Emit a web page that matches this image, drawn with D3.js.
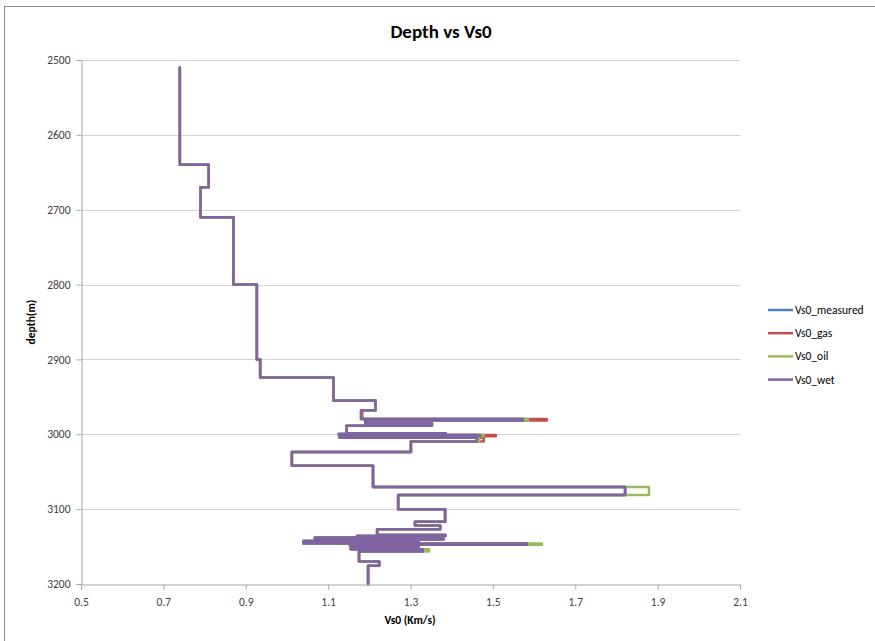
<!DOCTYPE html>
<html>
<head>
<meta charset="utf-8">
<script src="https://cdn.jsdelivr.net/npm/d3@7"></script>
<style>
  html, body { margin: 0; padding: 0; background: #fff; }
  svg { display: block; font-family: Carlito, Lato, "Open Sans", sans-serif; }
</style>
</head>
<body>
<svg id="chart" width="875" height="641"></svg>
<script>
// ---- data ----
const layerTops = [2510, 2640, 2670, 2710, 2800, 2900, 2924, 2955, 2968, 2979.5,
  2981.5, 2985.3, 2988.5, 2998.5, 2999.5, 3001, 3002.5, 3004.5, 3009.8, 3023.6,
  3042, 3070.5, 3081, 3100, 3117, 3122, 3127, 3134.5, 3136, 3137,
  3138, 3139.5, 3140.5, 3141.5, 3142.5, 3143.5, 3144.5, 3146, 3147.5, 3148.5,
  3149.5, 3150.5, 3151.5, 3153.5, 3156.5, 3170, 3175.5];
const bottomDepth = 3200;

const vsMeasured = [0.74, 0.81, 0.79, 0.87, 0.927, 0.935, 1.113, 1.215, 1.18, 1.573,
  1.19, 1.352, 1.145, 1.386, 1.126, 1.469, 1.128, 1.461, 1.301, 1.012,
  1.209, 1.821, 1.270, 1.384, 1.311, 1.372, 1.219, 1.385, 1.17, 1.38,
  1.068, 1.38, 1.07, 1.32, 1.04, 1.32, 1.04, 1.583, 1.153, 1.32,
  1.155, 1.32, 1.155, 1.33, 1.175, 1.224, 1.197];
const vsGas = [0.74, 0.81, 0.79, 0.87, 0.927, 0.935, 1.113, 1.215, 1.183, 1.631,
  1.19, 1.352, 1.145, 1.386, 1.126, 1.507, 1.128, 1.478, 1.301, 1.012,
  1.209, 1.821, 1.270, 1.384, 1.311, 1.372, 1.219, 1.385, 1.17, 1.38,
  1.068, 1.38, 1.07, 1.32, 1.04, 1.32, 1.04, 1.583, 1.153, 1.32,
  1.155, 1.32, 1.155, 1.33, 1.175, 1.224, 1.197];
const vsOil = [0.74, 0.81, 0.79, 0.87, 0.927, 0.935, 1.113, 1.215, 1.18, 1.585,
  1.19, 1.352, 1.145, 1.386, 1.126, 1.477, 1.128, 1.467, 1.301, 1.012,
  1.209, 1.879, 1.270, 1.384, 1.311, 1.372, 1.219, 1.385, 1.17, 1.38,
  1.068, 1.38, 1.07, 1.32, 1.04, 1.32, 1.04, 1.619, 1.153, 1.32,
  1.155, 1.32, 1.155, 1.345, 1.175, 1.224, 1.197];
const vsWet = [0.74, 0.81, 0.79, 0.87, 0.927, 0.935, 1.113, 1.215, 1.18, 1.573,
  1.19, 1.352, 1.145, 1.386, 1.126, 1.469, 1.128, 1.461, 1.301, 1.012,
  1.209, 1.821, 1.270, 1.384, 1.311, 1.372, 1.219, 1.385, 1.17, 1.38,
  1.068, 1.38, 1.07, 1.32, 1.04, 1.32, 1.04, 1.583, 1.153, 1.32,
  1.155, 1.32, 1.155, 1.33, 1.175, 1.224, 1.197];

const seriesNames = ["Vs0_measured", "Vs0_gas", "Vs0_oil", "Vs0_wet"];
const seriesColors = ["#4F81BD", "#C0504D", "#9BBB59", "#8064A2"];
const xTicks = [0.5, 0.7, 0.9, 1.1, 1.3, 1.5, 1.7, 1.9, 2.1];
const yTicks = [2500, 2600, 2700, 2800, 2900, 3000, 3100, 3200];

// ---- layout ----
const svg = d3.select("#chart");
const plot = { left: 81, right: 740, top: 60, bottom: 584 };

svg.append("rect").attr("x", 4.5).attr("y", 6.5).attr("width", 900).attr("height", 700)
  .attr("fill", "#fff").attr("stroke", "#8c8c8c").attr("stroke-width", 1);

const x = d3.scaleLinear().domain([0.5, 2.1]).range([plot.left, plot.right]);
const y = d3.scaleLinear().domain([2500, 3200]).range([plot.top, plot.bottom]);

// gridlines
svg.append("g").selectAll("line").data(yTicks.slice(0, -1)).join("line")
  .attr("x1", plot.left).attr("x2", plot.right)
  .attr("y1", d => Math.round(y(d)) + 0.5).attr("y2", d => Math.round(y(d)) + 0.5)
  .attr("stroke", "#d4d4d4").attr("stroke-width", 1);

// axes
const yAxis = d3.axisLeft(y).tickValues(yTicks).tickSize(5).tickPadding(6).tickFormat(d3.format("d"));
const gy = svg.append("g").attr("transform", `translate(${plot.left + 0.5},0)`).call(yAxis);
const xAxis = d3.axisBottom(x).tickValues(xTicks).tickSize(5).tickPadding(8).tickFormat(d3.format(".1f"));
const gx = svg.append("g").attr("transform", `translate(0,${plot.bottom + 0.5})`).call(xAxis);
[gx, gy].forEach(g => {
  g.select(".domain").attr("stroke", "#a6a6a6");
  g.selectAll(".tick line").attr("stroke", "#a6a6a6");
  g.selectAll(".tick text").attr("fill", "#404040").attr("font-size", 11.5)
    .attr("font-family", "Carlito, Lato, sans-serif");
});

// series
const seriesValues = [vsMeasured, vsGas, vsOil, vsWet];
function stepPoints(vals) {
  const pts = [];
  layerTops.forEach((top, i) => {
    const bot = i < layerTops.length - 1 ? layerTops[i + 1] : bottomDepth;
    pts.push([vals[i], top]);
    pts.push([vals[i], bot]);
  });
  return pts;
}
const line = d3.line().x(d => x(d[0])).y(d => y(d[1]));
seriesValues.forEach((vals, k) => {
  svg.append("path").attr("d", line(stepPoints(vals)))
    .attr("fill", "none").attr("stroke", seriesColors[k])
    .attr("stroke-width", 2.5).attr("stroke-linejoin", "round").attr("stroke-linecap", "round");
});

// title and axis titles
svg.append("text").attr("x", 441).attr("y", 38).attr("text-anchor", "middle")
  .attr("font-size", 19).attr("font-weight", "bold").attr("fill", "#000").text("Depth vs Vs0");
svg.append("text").attr("x", 410).attr("y", 624).attr("text-anchor", "middle")
  .attr("font-size", 11.5).attr("font-weight", "bold").attr("fill", "#000").text("Vs0 (Km/s)");
svg.append("text").attr("transform", "translate(35,322) rotate(-90)").attr("text-anchor", "middle")
  .attr("font-size", 11.5).attr("font-weight", "bold").attr("fill", "#000").text("depth(m)");

// legend
const lg = svg.append("g").attr("transform", "translate(768,310)");
seriesNames.forEach((name, i) => {
  const gi = lg.append("g").attr("transform", `translate(0,${i * 23.2})`);
  gi.append("line").attr("x1", 0).attr("x2", 25).attr("y1", 0).attr("y2", 0)
    .attr("stroke", seriesColors[i]).attr("stroke-width", 2.5);
  gi.append("text").attr("x", 27).attr("y", 4).attr("font-size", 11.5)
    .attr("fill", "#000").text(name);
});
</script>
</body>
</html>
